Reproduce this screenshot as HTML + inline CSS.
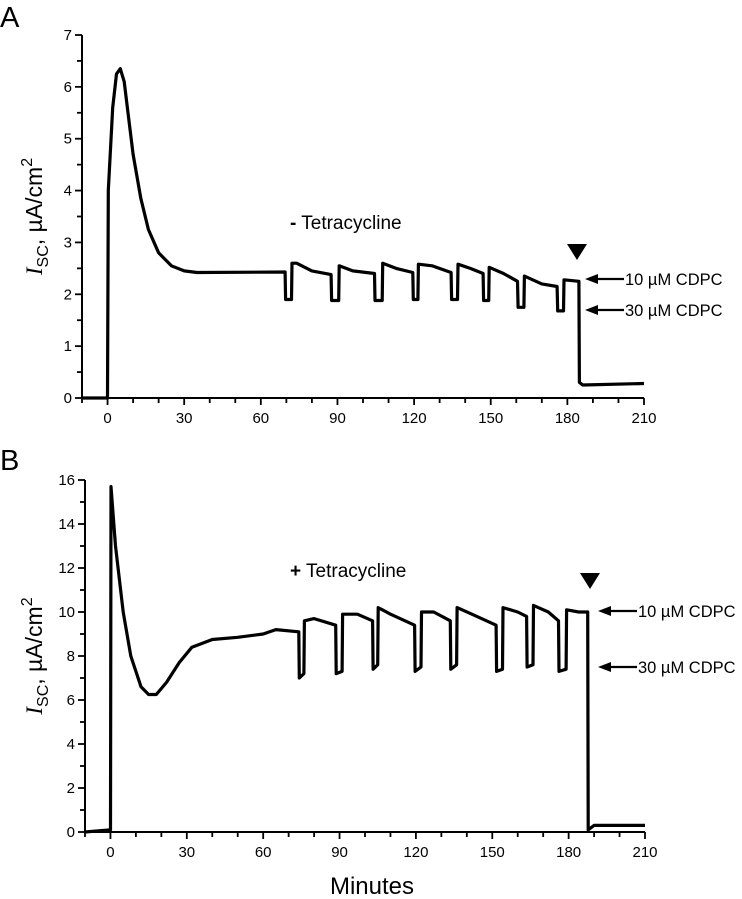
<!DOCTYPE html>
<html><head><meta charset="utf-8"><style>
html,body{margin:0;padding:0;background:#fff;}
svg{display:block;font-family:"Liberation Sans",sans-serif;}
</style></head><body>
<svg id="fig" width="742" height="899" viewBox="0 0 742 899" xmlns="http://www.w3.org/2000/svg">
<text x="0" y="27" font-size="29">A</text>
<text x="0" y="470" font-size="29">B</text>
<g id="ga"></g>
<g id="gb"></g>
<text x="372" y="894" font-size="24" text-anchor="middle">Minutes</text>
</svg>
<script>
const xTicks = [0,30,60,90,120,150,180,210];
const aYTicks = [0,1,2,3,4,5,6,7];
const bYTicks = [0,2,4,6,8,10,12,14,16];
const aTime = [-10,0,0.3,2,3.5,5,6.5,8,10,13,16,20,25,30,35,69.5,69.7,72,72.2,74,80,87.5,87.7,90.5,90.7,96,104.5,104.7,107.5,107.7,113,119.5,119.7,121.5,121.7,127,134.5,134.7,137,137.2,142,147,147.2,149.2,149.4,155,160.5,160.7,163,163.2,170,176,176.2,178.5,178.7,184.5,184.7,186,210];
const aValue = [0,0,4,5.6,6.25,6.35,6.1,5.5,4.7,3.85,3.25,2.8,2.55,2.45,2.42,2.43,1.9,1.9,2.6,2.6,2.45,2.38,1.88,1.88,2.55,2.45,2.4,1.88,1.88,2.6,2.5,2.42,1.9,1.9,2.58,2.55,2.42,1.9,1.9,2.58,2.5,2.4,1.88,1.88,2.52,2.4,2.25,1.75,1.75,2.35,2.2,2.15,1.68,1.68,2.28,2.25,0.3,0.25,0.28];
const bTime = [-10,0,0.2,2,5,8,12,15,18,22,27,32,40,50,60,65,74,74.2,76,76.2,80,88.5,88.7,91,91.2,97,103,103.2,105,105.2,110,119.5,119.7,122,122.2,127,133.5,133.7,136,136.2,142,151.5,151.7,154,154.2,160,163.5,163.7,166,166.2,172,176,176.2,179,179.2,184,187.5,187.7,190,210];
const bValue = [0,0.1,15.7,13,10,8,6.6,6.25,6.25,6.8,7.7,8.4,8.75,8.85,9.0,9.2,9.1,7.0,7.2,9.6,9.7,9.4,7.2,7.3,9.9,9.9,9.6,7.4,7.6,10.2,9.9,9.4,7.3,7.5,10,10,9.6,7.4,7.6,10.2,9.9,9.4,7.3,7.4,10.2,10,9.8,7.5,7.6,10.3,10,9.6,7.3,7.4,10.1,10,10,0.1,0.3,0.3];

const NS='http://www.w3.org/2000/svg';
function mk(tag,attrs,parent,text){const e=document.createElementNS(NS,tag);for(const k in attrs)e.setAttribute(k,attrs[k]);if(text!==undefined)e.textContent=text;parent.appendChild(e);return e;}

function panel(g,cfg){
  const xs=t=>cfg.x0+(t+10)*(cfg.x1-cfg.x0)/220;
  const ys=v=>cfg.yb-(v-0)*(cfg.yb-cfg.yt)/cfg.ymax;
  let ax=mk('line',{x1:xs(-10),y1:cfg.yb,x2:xs(210),y2:cfg.yb,stroke:'#000','stroke-width':2},g);
  
  
  let ay=mk('line',{x1:xs(-10),y1:cfg.yb,x2:xs(-10),y2:cfg.yt,stroke:'#000','stroke-width':2},g);
  
  
  for(let t=-10;t<=210;t+=10){
    const major=xTicks.includes(t);
    mk('line',{x1:xs(t),y1:cfg.yb,x2:xs(t),y2:cfg.yb+(major?7:5),stroke:'#000','stroke-width':1.8},g);
  }
  xTicks.forEach(t=>{
    const e=mk('text',{x:xs(t),y:cfg.yb+25,'font-size':15,'text-anchor':'middle'},g,String(t));
    
    
  });
  const step=cfg.yTicks[1]-cfg.yTicks[0];
  for(let v=0;v<=cfg.ymax+1e-9;v+=step/2){
    const major=Math.abs(v/step-Math.round(v/step))<1e-6;
    mk('line',{x1:xs(-10),y1:ys(v),x2:xs(-10)-(major?7:5),y2:ys(v),stroke:'#000','stroke-width':1.8},g);
  }
  cfg.yTicks.forEach(v=>{
    const e=mk('text',{x:xs(-10)-10,y:ys(v)+5,'font-size':15,'text-anchor':'end'},g,String(v));
    
    
  });
  const yt=mk('text',{transform:`translate(${cfg.ytx},${(cfg.yt+cfg.yb)/2}) rotate(-90)`,'font-size':23,'text-anchor':'middle'},g);
  
  
  mk('tspan',{'font-family':'Liberation Serif, serif','font-style':'italic'},yt,'I');
  mk('tspan',{'font-size':16,dy:6},yt,'SC');
  mk('tspan',{dy:-6},yt,', \u00b5A/cm');
  mk('tspan',{'font-size':16,dy:-10},yt,'2');
  const d=cfg.time.map((t,i)=>(i?'L':'M')+xs(t).toFixed(1)+','+ys(cfg.value[i]).toFixed(1)).join(' ');
  const p=mk('path',{d:d,fill:'none',stroke:'#000','stroke-width':3.2,'stroke-linejoin':'round'},g);
  
  
  const an=mk('text',{x:cfg.tx,y:cfg.ty,'font-size':19},g);
  
  
  mk('tspan',{'font-weight':'bold'},an,cfg.sign);
  mk('tspan',{},an,' Tetracycline');
  const tri=mk('path',{d:`M${cfg.trx-10},${cfg.try} L${cfg.trx+10},${cfg.try} L${cfg.trx},${cfg.try+16} Z`,fill:'#000'},g);
  
  
  [[cfg.a1,'10 \u00b5M CDPC'],[cfg.a2,'30 \u00b5M CDPC']].forEach(([y,s])=>{
    mk('line',{x1:cfg.ax0+8,y1:y,x2:cfg.ax1,y2:y,stroke:'#000','stroke-width':2.2},g);
    mk('path',{d:`M${cfg.ax0},${y} L${cfg.ax0+13},${y-5} L${cfg.ax0+13},${y+5} Z`,fill:'#000'},g);
    const e=mk('text',{x:cfg.ax1+1,y:y+6,'font-size':16.5},g,s);
    
    
  });
}
panel(document.getElementById('ga'),{x0:82,x1:644,yb:398,yt:35,ymax:7,yTicks:aYTicks,time:aTime,value:aValue,ytx:42,
  sign:'-',label:'- Tetracycline',tx:290,ty:229,trx:577,try:244,a1:279,a2:310,ax0:585,ax1:624});
panel(document.getElementById('gb'),{x0:85,x1:645,yb:832,yt:480,ymax:16,yTicks:bYTicks,time:bTime,value:bValue,ytx:42,
  sign:'+',label:'+ Tetracycline',tx:290,ty:577,trx:590,try:573,a1:611,a2:667,ax0:598,ax1:637});
</script>
</body></html>
